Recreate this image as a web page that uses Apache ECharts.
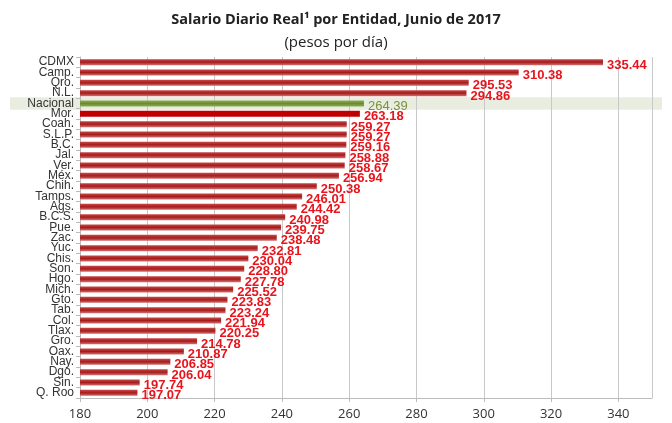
<!DOCTYPE html>
<html><head><meta charset="utf-8">
<script src="https://cdn.jsdelivr.net/npm/echarts@6/dist/echarts.min.js"></script>
<style>html,body{margin:0;padding:0;background:#fff}#c{width:672px;height:423px}</style>
</head><body><div id="c"></div>
<script>
const categories = ["CDMX","Camp.","Qro.","N.L.","Nacional","Mor.","Coah.","S.L.P.","B.C.","Jal.","Ver.","Méx.","Chih.","Tamps.","Ags.","B.C.S.","Pue.","Zac.","Yuc.","Chis.","Son.","Hgo.","Mich.","Gto.","Tab.","Col.","Tlax.","Gro.","Oax.","Nay.","Dgo.","Sin.","Q. Roo"];
const values = [335.44,310.38,295.53,294.86,264.39,263.18,259.27,259.27,259.16,258.88,258.67,256.94,250.38,246.01,244.42,240.98,239.75,238.48,232.81,230.04,228.80,227.78,225.52,223.83,223.24,221.94,220.25,214.78,210.87,206.85,206.04,197.74,197.07];
const xTicks = [180,200,220,240,260,280,300,320,340];
const highlight = "Nacional";
const special = "Mor.";

const FONT = "'Liberation Sans',sans-serif";
const redGrad = new echarts.graphic.LinearGradient(0,0,0,1,[
  {offset:0,color:'#c84848'},{offset:0.5,color:'#a51c1c'},{offset:1,color:'#d27070'}]);
const greenGrad = new echarts.graphic.LinearGradient(0,0,0,1,[
  {offset:0,color:'#8cab55'},{offset:0.5,color:'#6b8a32'},{offset:1,color:'#8cab55'}]);

const data = values.map((v,i)=>{
  const c = categories[i];
  if (c === highlight) return {value:v, itemStyle:{color:greenGrad}, label:{color:'#76923c', fontWeight:'normal'}};
  if (c === special) return {value:v, itemStyle:{color:'#c00000'}};
  return {value:v};
});

const chart = echarts.init(document.getElementById('c'));
chart.setOption({
  animation:false,
  title:{
    text:'Salario Diario Real¹ por Entidad, Junio de 2017',
    subtext:'(pesos por día)',
    left:'center', top:7, itemGap:8,
    textStyle:{fontFamily:"'Open Sans',sans-serif",fontSize:14.5,fontWeight:'bold',color:'#222'},
    subtextStyle:{fontFamily:"'Open Sans',sans-serif",fontSize:15,color:'#222'}
  },
  grid:{left:80,right:20,top:57,bottom:25},
  xAxis:{
    type:'value', min:xTicks[0], max:350, interval:20,
    axisLine:{show:true,lineStyle:{color:'#bbb'}},
    axisTick:{show:true,length:4,lineStyle:{color:'#bbb'}},
    axisLabel:{showMaxLabel:false,fontFamily:"'Open Sans',sans-serif",fontSize:13,color:'#333',margin:10,
      formatter:v=>xTicks.includes(v)?String(v):''},
    splitLine:{show:true,lineStyle:{color:'#c8c8c8'}}
  },
  yAxis:{
    type:'category', data:categories, inverse:true,
    axisLine:{show:true,lineStyle:{color:'#bbb'}},
    axisTick:{show:true,length:4,interval:0,lineStyle:{color:'#bbb'}},
    axisLabel:{interval:0,fontFamily:FONT,fontSize:12,color:'#333',margin:6,lineHeight:12}
  },
  series:[{
    type:'bar', data:data, barWidth:6,
    itemStyle:{color:redGrad},
    label:{show:true,position:'right',distance:4,formatter:p=>p.value.toFixed(2),
      fontFamily:FONT,fontSize:13,fontWeight:'bold',color:'#e8141c',offset:[0,3]},
    z:3
  }]
});

// highlight band behind Nacional row
const yPix = chart.convertToPixel({yAxisIndex:0}, highlight);
const step = chart.convertToPixel({yAxisIndex:0}, categories[5]) - yPix;
chart.setOption({graphic:[{type:'rect',z:-1,silent:true,
  shape:{x:10,y:yPix-step/2-1,width:652,height:step+2},
  style:{fill:'#e9eddf'}}]});
</script></body></html>
